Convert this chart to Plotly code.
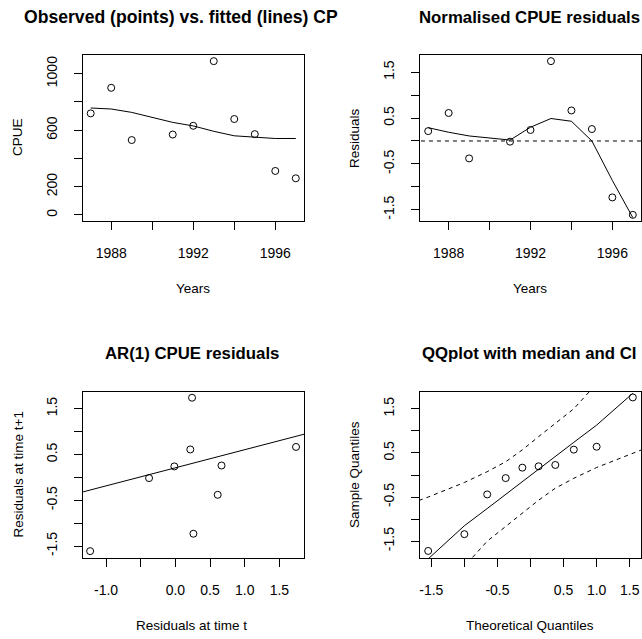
import plotly.graph_objects as go

W, H = 642, 639
FONT = "Liberation Sans, Arial, Helvetica, sans-serif"

# ---------------- data ----------------
years = [1987, 1988, 1989, 1991, 1992, 1993, 1994, 1995, 1996, 1997]
cpue_obs = [719, 900, 530, 569, 631, 1089, 679, 572, 311, 259]
fit_years = [1987, 1988, 1989, 1990, 1991, 1992, 1993, 1994, 1995, 1996, 1997]
cpue_fit = [757, 750, 726, 690, 655, 630, 592, 560, 550, 541, 541]

resid = [0.215, 0.61, -0.38, -0.015, 0.24, 1.74, 0.665, 0.26, -1.23, -1.61]
resid_smooth = [0.29, 0.19, 0.11, 0.02, 0.30, 0.49, 0.43, 0.0, -0.86, -1.67]

ar_intercept = 0.21
ar_slope = 0.395

theo_q = [-1.547, -1.0, -0.655, -0.375, -0.123, 0.123, 0.375, 0.655, 1.0, 1.547]
sample_q = [-1.72, -1.34, -0.44, -0.07, 0.166, 0.197, 0.227, 0.575, 0.64, 1.757]
median_q = [-1.90, -1.15, -0.76, -0.44, -0.15, 0.15, 0.43, 0.74, 1.13, 1.85]
ci_x = [-1.8, -1.547, -1.0, -0.655, -0.375, -0.123, 0.123, 0.375, 0.655, 1.0, 1.547, 1.8]
ci_upper = [-0.64, -0.50, -0.17, 0.075, 0.30, 0.57, 0.87, 1.17, 1.50, 2.07, 2.9, 3.3]
ci_lower = [-3.3, -2.9, -2.07, -1.50, -1.17, -0.87, -0.57, -0.30, -0.075, 0.17, 0.50, 0.64]

year_ticks = [1988, 1990, 1992, 1994, 1996]
year_labels = ["1988", "", "1992", "", "1996"]
cpue_ticks = [0, 200, 400, 600, 800, 1000]
cpue_labels = ["0", "200", "", "600", "", "1000"]
res_ticks = [-1.5, -1.0, -0.5, 0.0, 0.5, 1.0, 1.5]
res_labels = ["-1.5", "", "-0.5", "", "0.5", "", "1.5"]
ar_xticks = [-1.0, -0.5, 0.0, 0.5, 1.0, 1.5]
ar_xlabels = ["-1.0", "", "0.0", "0.5", "1.0", "1.5"]
qq_xticks = [-1.5, -1.0, -0.5, 0.0, 0.5, 1.0, 1.5]
qq_xlabels = ["-1.5", "", "-0.5", "", "0.5", "1.0", "1.5"]

# ---------------- helpers ----------------
def px(x):
    return x / W

def py(y):
    return 1 - y / H

def xdom(l, r):
    return [px(l), px(r)]

def ydom(t, b):
    return [py(b), py(t)]

mk = dict(symbol="circle-open", size=7, color="black", line=dict(width=1, color="black"))
ln = dict(color="black", width=1)
dash = dict(color="black", width=1, dash="4px,4px")

fig = go.Figure()

# Panel 1
fig.add_trace(go.Scatter(x=years, y=cpue_obs, mode="markers", marker=mk, xaxis="x", yaxis="y"))
fig.add_trace(go.Scatter(x=fit_years, y=cpue_fit, mode="lines", line=ln, xaxis="x", yaxis="y"))

# Panel 2
fig.add_trace(go.Scatter(x=[1980, 2000], y=[0, 0], mode="lines", line=dash, xaxis="x2", yaxis="y2"))
fig.add_trace(go.Scatter(x=years, y=resid, mode="markers", marker=mk, xaxis="x2", yaxis="y2"))
fig.add_trace(go.Scatter(x=years, y=resid_smooth, mode="lines", line=ln, xaxis="x2", yaxis="y2"))

# Panel 3
ar_x = resid[:-1]
ar_y = resid[1:]
fig.add_trace(go.Scatter(x=ar_x, y=ar_y, mode="markers", marker=mk, xaxis="x3", yaxis="y3"))
lx = [-3, 3]
fig.add_trace(go.Scatter(x=lx, y=[ar_intercept + ar_slope * v for v in lx], mode="lines",
                         line=ln, xaxis="x3", yaxis="y3"))

# Panel 4
fig.add_trace(go.Scatter(x=theo_q, y=sample_q, mode="markers", marker=mk, xaxis="x4", yaxis="y4"))
fig.add_trace(go.Scatter(x=theo_q, y=median_q, mode="lines", line=ln, xaxis="x4", yaxis="y4"))
fig.add_trace(go.Scatter(x=ci_x, y=ci_upper, mode="lines", line=dash, xaxis="x4", yaxis="y4"))
fig.add_trace(go.Scatter(x=ci_x, y=ci_lower, mode="lines", line=dash, xaxis="x4", yaxis="y4"))

axbase = dict(showgrid=False, zeroline=False, showline=True, mirror=True, linecolor="black",
              linewidth=1, ticks="outside", ticklen=8, tickwidth=1, tickcolor="black",
              tickfont=dict(family=FONT, size=14, color="black"), fixedrange=True)

def xa(dom, anchor, rng, tv, tt):
    d = dict(axbase)
    d.update(domain=dom, anchor=anchor, range=rng, tickmode="array", tickvals=tv, ticktext=tt,
             ticklabelstandoff=11)
    return d

def ya(dom, anchor, rng, tv, tt):
    d = dict(axbase)
    d.update(domain=dom, anchor=anchor, range=rng, tickmode="array", tickvals=tv, ticktext=tt,
             tickangle=-90, ticklabelstandoff=11)
    return d

L1, R1 = 82.5, 304
L2, R2 = 420, 641
T1, B1 = 55, 221
T2, B2 = 392, 558

fig.update_layout(
    width=W, height=H, margin=dict(l=0, r=0, t=0, b=0),
    paper_bgcolor="white", plot_bgcolor="white", showlegend=False,
    xaxis=xa(xdom(L1, R1), "y", [1986.6, 1997.4], year_ticks, year_labels),
    yaxis=ya(ydom(T1, B1), "x", [-43.6, 1132.6], cpue_ticks, cpue_labels),
    xaxis2=xa(xdom(L2, R2), "y2", [1986.6, 1997.4], year_ticks, year_labels),
    yaxis2=ya(ydom(T1, B1), "x2", [-1.744, 1.874], res_ticks, res_labels),
    xaxis3=xa(xdom(L1, R1), "y3", [-1.34, 1.855], ar_xticks, ar_xlabels),
    yaxis3=ya(ydom(T2, B2), "x3", [-1.76, 1.865], res_ticks, res_labels),
    xaxis4=xa(xdom(L2, R2), "y4", [-1.671, 1.671], qq_xticks, qq_xlabels),
    yaxis4=ya(ydom(T2, B2), "x4", [-1.88, 1.88], res_ticks, res_labels),
)

def ann(text, x, y, size, bold=False, angle=0, xanchor="center"):
    fig.add_annotation(text=("<b>%s</b>" % text) if bold else text, x=px(x), y=py(y),
                       xref="paper", yref="paper", showarrow=False, xanchor=xanchor,
                       yanchor="middle", textangle=angle,
                       font=dict(family=FONT, size=size, color="black"))

# titles
ann("Observed (points) vs. fitted (lines) CP", 181, 17, 17.6, bold=True)
ann("Normalised CPUE residuals", 529, 17, 16.8, bold=True)
ann("AR(1) CPUE residuals", 192, 353, 16.8, bold=True)
ann("QQplot with median and CI", 529, 353, 16.8, bold=True)

# axis titles
ann("Years", 192.5, 288, 13.5)
ann("Years", 529.5, 288, 13.5)
ann("Residuals at time t", 192, 625, 13.5)
ann("Theoretical Quantiles", 529.5, 625, 13.5)
ann("CPUE", 17, 137, 13.5, angle=-90)
ann("Residuals", 354, 138, 13.5, angle=-90)
ann("Residuals at time t+1", 17.5, 475, 13.5, angle=-90)
ann("Sample Quantiles", 354, 474, 13.5, angle=-90)

fig.write_html("out.html")
